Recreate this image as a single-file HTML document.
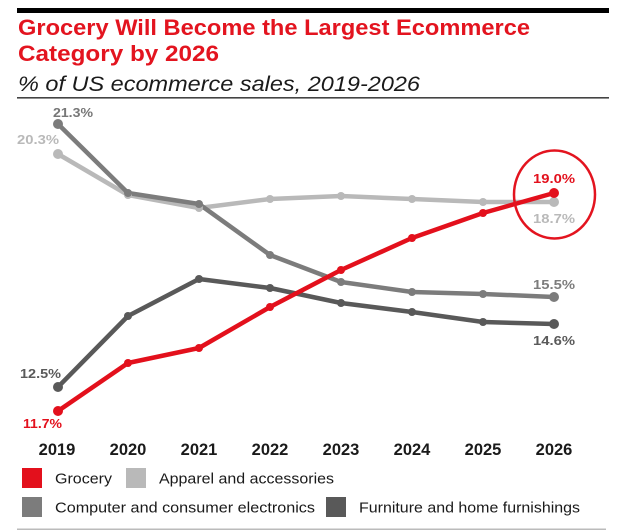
<!DOCTYPE html>
<html>
<head>
<meta charset="utf-8">
<style>
  html, body { margin: 0; padding: 0; background: #ffffff; }
  body { width: 623px; height: 531px; overflow: hidden; }
  svg { display: block; }
  text { font-family: "Liberation Sans", Arial, sans-serif; }
</style>
</head>
<body>
<svg width="623" height="531" viewBox="0 0 623 531" xmlns="http://www.w3.org/2000/svg">
  <rect x="0" y="0" width="623" height="531" fill="#ffffff"/>
  <!-- top bar -->
  <rect x="17" y="8" width="592" height="5" fill="#000000"/>
  <!-- title -->
  <text x="18" y="35" font-size="22" font-weight="bold" fill="#e3141f" textLength="512" lengthAdjust="spacingAndGlyphs">Grocery Will Become the Largest Ecommerce</text>
  <text x="18" y="61" font-size="22" font-weight="bold" fill="#e3141f" textLength="201" lengthAdjust="spacingAndGlyphs">Category by 2026</text>
  <text x="18" y="91" font-size="21" font-style="italic" fill="#1a1a1a" textLength="402" lengthAdjust="spacingAndGlyphs">% of US ecommerce sales, 2019-2026</text>
  <rect x="17" y="97" width="592" height="1.6" fill="#444444"/>

  <!-- series -->
  <g fill="none" stroke-width="4.5" stroke-linejoin="round" stroke-linecap="round">
    <polyline stroke="#b9b9b9" points="58,154 128,195 199,208 270,199 341,196 412,199 483,202 554,202"/>
    <polyline stroke="#595959" points="58,387 128,316 199,279 270,288 341,303 412,312 483,322 554,324"/>
    <polyline stroke="#7c7c7c" points="58,124 128,193 199,204 270,255 341,282 412,292 483,294 554,297"/>
    <polyline stroke="#e3101c" points="58,411 128,363 199,348 270,307 341,270 412,238 483,213 554,193"/>
  </g>
  <g fill="#b9b9b9">
    <circle cx="58" cy="154" r="5"/><circle cx="128" cy="195" r="4"/><circle cx="199" cy="208" r="4"/><circle cx="270" cy="199" r="4"/><circle cx="341" cy="196" r="4"/><circle cx="412" cy="199" r="4"/><circle cx="483" cy="202" r="4"/><circle cx="554" cy="202" r="5"/>
  </g>
  <g fill="#595959">
    <circle cx="58" cy="387" r="5"/><circle cx="128" cy="316" r="4"/><circle cx="199" cy="279" r="4"/><circle cx="270" cy="288" r="4"/><circle cx="341" cy="303" r="4"/><circle cx="412" cy="312" r="4"/><circle cx="483" cy="322" r="4"/><circle cx="554" cy="324" r="5"/>
  </g>
  <g fill="#7c7c7c">
    <circle cx="58" cy="124" r="5"/><circle cx="128" cy="193" r="4"/><circle cx="199" cy="204" r="4"/><circle cx="270" cy="255" r="4"/><circle cx="341" cy="282" r="4"/><circle cx="412" cy="292" r="4"/><circle cx="483" cy="294" r="4"/><circle cx="554" cy="297" r="5"/>
  </g>
  <g fill="#e3101c">
    <circle cx="58" cy="411" r="5"/><circle cx="128" cy="363" r="4"/><circle cx="199" cy="348" r="4"/><circle cx="270" cy="307" r="4"/><circle cx="341" cy="270" r="4"/><circle cx="412" cy="238" r="4"/><circle cx="483" cy="213" r="4"/><circle cx="554" cy="193" r="5"/>
  </g>

  <!-- highlight ellipse -->
  <ellipse cx="554.5" cy="194.5" rx="40.5" ry="44" fill="none" stroke="#e3141f" stroke-width="2.5"/>

  <!-- value labels -->
  <g font-size="13" font-weight="bold">
    <text x="53" y="117" fill="#777777" textLength="40" lengthAdjust="spacingAndGlyphs">21.3%</text>
    <text x="17" y="144" fill="#b9b9b9" textLength="42" lengthAdjust="spacingAndGlyphs">20.3%</text>
    <text x="20" y="378" fill="#5a5a5a" textLength="41" lengthAdjust="spacingAndGlyphs">12.5%</text>
    <text x="23" y="428" fill="#e3101c" textLength="39" lengthAdjust="spacingAndGlyphs">11.7%</text>
    <text x="533" y="183" fill="#e3101c" textLength="42" lengthAdjust="spacingAndGlyphs">19.0%</text>
    <text x="533" y="223" fill="#b9b9b9" textLength="42" lengthAdjust="spacingAndGlyphs">18.7%</text>
    <text x="533" y="289" fill="#7c7c7c" textLength="42" lengthAdjust="spacingAndGlyphs">15.5%</text>
    <text x="533" y="345" fill="#5a5a5a" textLength="42" lengthAdjust="spacingAndGlyphs">14.6%</text>
  </g>

  <!-- x axis labels -->
  <g font-size="16.5" font-weight="bold" fill="#1a1a1a" text-anchor="middle">
    <text x="57" y="455">2019</text>
    <text x="128" y="455">2020</text>
    <text x="199" y="455">2021</text>
    <text x="270" y="455">2022</text>
    <text x="341" y="455">2023</text>
    <text x="412" y="455">2024</text>
    <text x="483" y="455">2025</text>
    <text x="554" y="455">2026</text>
  </g>

  <!-- legend -->
  <rect x="22" y="468" width="20" height="20" fill="#e3101c"/>
  <text x="55" y="483.5" font-size="15" fill="#1a1a1a" textLength="57" lengthAdjust="spacingAndGlyphs">Grocery</text>
  <rect x="126" y="468" width="20" height="20" fill="#b9b9b9"/>
  <text x="159" y="483.5" font-size="15" fill="#1a1a1a" textLength="175" lengthAdjust="spacingAndGlyphs">Apparel and accessories</text>
  <rect x="22" y="497" width="20" height="20" fill="#7c7c7c"/>
  <text x="55" y="512.5" font-size="15" fill="#1a1a1a" textLength="260" lengthAdjust="spacingAndGlyphs">Computer and consumer electronics</text>
  <rect x="326" y="497" width="20" height="20" fill="#595959"/>
  <text x="359" y="512.5" font-size="15" fill="#1a1a1a" textLength="221" lengthAdjust="spacingAndGlyphs">Furniture and home furnishings</text>

  <!-- bottom rule -->
  <rect x="17" y="528.5" width="589" height="1.5" fill="#bbbbbb"/>
</svg>
</body>
</html>
